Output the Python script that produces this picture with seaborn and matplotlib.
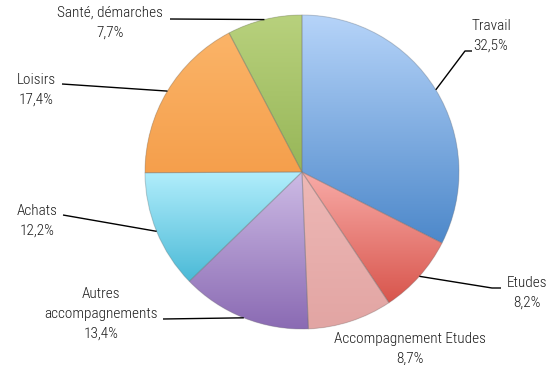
import numpy as np
import matplotlib
matplotlib.use("Agg")
import matplotlib.pyplot as plt
import seaborn as sns
from matplotlib.colors import to_rgb
from matplotlib.patches import Wedge
from matplotlib import font_manager

# Répartition des déplacements par motif
categories = ["Travail", "Etudes", "Accompagnement Etudes", "Autres\naccompagnements",
              "Achats", "Loisirs", "Santé, démarches"]
shares = [32.5, 8.2, 8.7, 13.4, 12.2, 17.4, 7.7]
pct_labels = ["32,5%", "8,2%", "8,7%", "13,4%", "12,2%", "17,4%", "7,7%"]

# Dégradé vertical de chaque part (haut clair -> bas foncé)
top_colors = ["#b6d4f9", "#f8aba7", "#eeb8b6", "#cdbbe5", "#b2eefc", "#fbb468", "#b8d17d"]
bottom_colors = ["#4d88ca", "#d8554c", "#e2a5a3", "#8a6ab3", "#4bbad7", "#f59f4c", "#97b658"]

sns.set_theme(style="white")
plt.rcParams["font.family"] = ["DejaVu Sans"]

names = {f.name for f in font_manager.fontManager.ttflist}
narrow = [n for n in ("Liberation Sans Narrow", "Roboto Condensed", "Open Sans Condensed")
          if n in names]
label_font = dict(family=narrow[:1] + ["DejaVu Sans"], stretch="condensed",
                  weight="light")

W, H = 554, 365
fig = plt.figure(figsize=(W / 100, H / 100), dpi=100)
ax = fig.add_axes([0, 0, 1, 1])

cx, cy, r = 302, H - 172, 157
wedges, _ = ax.pie(shares, startangle=90, counterclock=False, center=(cx, cy),
                   radius=r, colors=top_colors,
                   wedgeprops=dict(linewidth=0))

for w, c0, c1 in zip(wedges, top_colors, bottom_colors):
    verts = w.get_path().vertices
    x0, y0 = verts.min(axis=0)
    x1, y1 = verts.max(axis=0)
    t = np.linspace(0, 1, 256)[:, None]
    grad = (1 - t) * np.array(to_rgb(c0)) + t * np.array(to_rgb(c1))
    img = np.repeat(grad[:, None, :], 2, axis=1)
    im = ax.imshow(img, extent=[x0, x1, y0, y1], origin="upper",
                   aspect="auto", zorder=2, interpolation="bilinear")
    im.set_clip_path(w)
    edge = Wedge(w.center, w.r, w.theta1, w.theta2, facecolor="none",
                 edgecolor=(0.45, 0.45, 0.45, 0.3), linewidth=0.8, zorder=3)
    ax.add_patch(edge)

# Placement des étiquettes (coordonnées pixel, y vers le bas) et coudes des traits
label_pos = [(491, 36), (527, 293), (410, 349), (101, 314), (37, 221), (36, 90), (110, 23)]
leader_start = [[(472, 51), (465, 51)], [(501, 288), (492, 288)], None,
                [(163, 319)], [(63, 215)], [(62, 84)], [(170, 19)]]

for w, name, pct, (lx, ly), pts in zip(wedges, categories, pct_labels,
                                        label_pos, leader_start):
    ax.text(lx, H - ly, f"{name}\n{pct}", ha="center", va="center",
            multialignment="center", fontsize=11, color="#1a1a1a",
            linespacing=1.55, zorder=5, **label_font)
    if pts is None:
        continue
    mid = np.deg2rad((w.theta1 + w.theta2) / 2)
    rim = (cx + r * np.cos(mid), cy + r * np.sin(mid))
    xs = [p[0] for p in pts] + [rim[0]]
    ys = [H - p[1] for p in pts] + [rim[1]]
    ax.plot(xs, ys, color="black", linewidth=1.0, zorder=4,
            solid_capstyle="butt")

ax.set_xlim(0, W)
ax.set_ylim(0, H)
ax.set_aspect("equal")
ax.axis("off")
fig.savefig("out.png", dpi=100, facecolor="white")
